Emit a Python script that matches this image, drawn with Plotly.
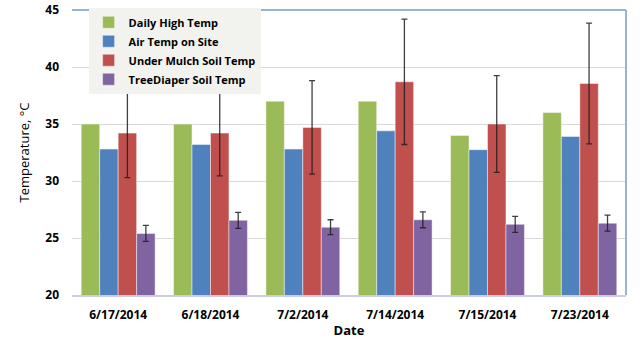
import plotly.graph_objects as go

dates = ["6/17/2014", "6/18/2014", "7/2/2014", "7/14/2014", "7/15/2014", "7/23/2014"]
daily_high = [35, 35, 37, 37, 34, 36]
air_temp = [32.8, 33.2, 32.8, 34.4, 32.75, 33.9]
mulch_soil = [34.2, 34.2, 34.7, 38.7, 35.0, 38.55]
mulch_err = [3.9, 3.75, 4.1, 5.5, 4.25, 5.3]
diaper_soil = [25.4, 26.55, 25.95, 26.6, 26.2, 26.3]
diaper_err = [0.7, 0.7, 0.65, 0.7, 0.7, 0.7]

series = [
    ("Daily High Temp", daily_high, None, "#9BBB59"),
    ("Air Temp on Site", air_temp, None, "#4F81BD"),
    ("Under Mulch Soil Temp", mulch_soil, mulch_err, "#C0504D"),
    ("TreeDiaper Soil Temp", diaper_soil, diaper_err, "#8064A2"),
]

fig = go.Figure()
for name, vals, err, color in series:
    kw = {}
    if err is not None:
        kw["error_y"] = dict(type="data", array=err, visible=True,
                             color="rgba(30,30,30,0.85)", thickness=1.3, width=3)
    fig.add_trace(go.Bar(
        name=name, x=dates, y=vals,
        marker=dict(color=color, line=dict(color="rgba(255,255,255,0.45)", width=1)),
        **kw))

fig.update_layout(
    width=643, height=344,
    margin=dict(l=72, r=17, t=10, b=49, autoexpand=False),
    paper_bgcolor="white", plot_bgcolor="white",
    barmode="group", bargap=0.2, bargroupgap=0,
    font=dict(family="Open Sans, DejaVu Sans, sans-serif", color="#000000"),
    showlegend=True,
    legend=dict(x=0.03, y=1.008, xanchor="left", yanchor="top",
                bgcolor="#F2F2EE", borderwidth=0,
                font=dict(size=11, family="Open Sans, sans-serif", weight="bold"),
                tracegroupgap=0, itemwidth=30, traceorder="normal"),
    xaxis=dict(
        title=dict(text="<b>Date</b>", font=dict(size=13), standoff=4),
        tickfont=dict(size=12, weight="bold"),
        ticklabelstandoff=8,
        showline=True, linecolor="#C9CDE0", linewidth=1.5,
        showgrid=False, ticks="",
    ),
    yaxis=dict(
        title=dict(text="Temperature, °C", font=dict(size=13), standoff=12),
        range=[20, 45], dtick=5,
        tickfont=dict(size=12, weight="bold"),
        ticklabelstandoff=12,
        showgrid=True, gridcolor="#D9D9D9", gridwidth=1,
        zeroline=False, showline=False, ticks="",
    ),
    shapes=[
        dict(type="line", xref="paper", yref="paper", x0=0, x1=1, y0=1, y1=1,
             line=dict(color="#95B3D7", width=2)),
        dict(type="line", xref="paper", yref="paper", x0=1, x1=1, y0=0, y1=1,
             line=dict(color="#95B3D7", width=2)),
    ],
)

fig.write_html("out.html")
